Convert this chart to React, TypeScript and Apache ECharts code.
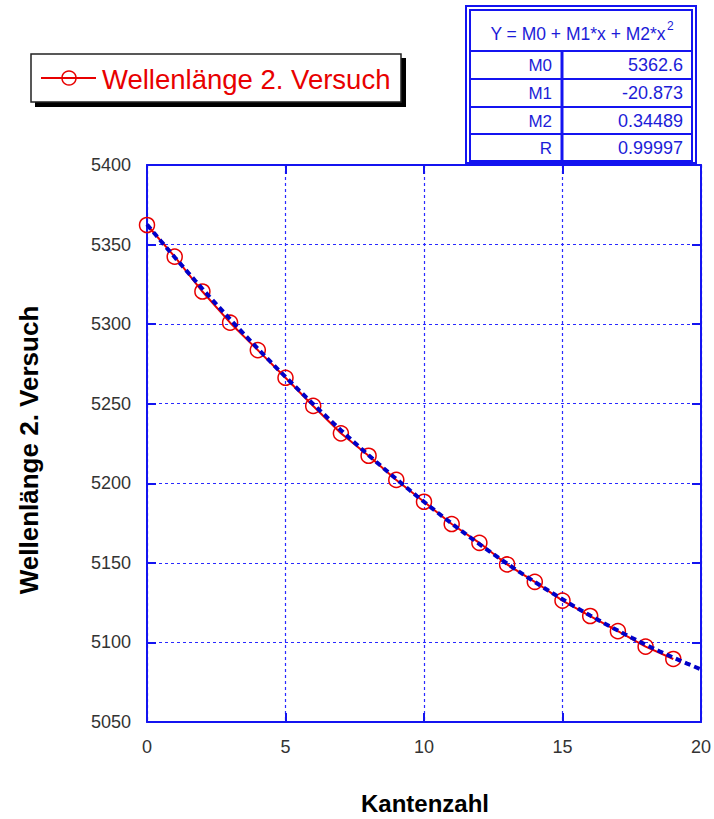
import React, { useEffect, useRef } from "react";
import * as echarts from "echarts";

// Measured edge count and wavelength (second run)
const kantenzahl = [0, 1, 2, 3, 4, 5, 6, 7, 8, 9, 10, 11, 12, 13, 14, 15, 16, 17, 18, 19];
const wellenlaenge = [
  5362.3, 5342.4, 5320.5, 5300.9, 5283.7, 5266.3, 5248.6, 5231.4, 5217.3, 5202.1,
  5188.4, 5174.4, 5162.6, 5149.0, 5138.1, 5126.3, 5116.6, 5107.1, 5097.4, 5089.6,
];

// Quadratic fit parameters shown in the table
const fitNames = ["M0", "M1", "M2", "R"];
const fitValues = ["5362.6", "-20.873", "0.34489", "0.99997"];
const fitCoeffs = [5362.6, -20.873, 0.34489];
const fitRange = [0, 20];

const xTicks = { min: 0, max: 20, interval: 5 };
const yTicks = { min: 5050, max: 5400, interval: 50 };

const seriesName = "Wellenlänge 2. Versuch";
const xTitle = "Kantenzahl";
const yTitle = "Wellenlänge 2. Versuch";

const BLUE = "#1414f0";
const GRID_BLUE = "#2a2aff";
const RED = "#e80000";
const TABLE_BLUE = "#1c1cd8";
const FONT = "Arial, 'Liberation Sans', sans-serif";

function fitCurve(): number[][] {
  const pts: number[][] = [];
  const steps = 80;
  for (let i = 0; i <= steps; i++) {
    const x = fitRange[0] + ((fitRange[1] - fitRange[0]) * i) / steps;
    pts.push([x, fitCoeffs[0] + fitCoeffs[1] * x + fitCoeffs[2] * x * x]);
  }
  return pts;
}

function tableGraphics(): any[] {
  const els: any[] = [];
  const L = 466, R = 696, T = 6, B = 163;
  // outer frame and inner frame
  els.push({ type: "rect", shape: { x: L, y: T, width: R - L, height: B - T }, style: { fill: "#fff", stroke: BLUE, lineWidth: 2 } });
  els.push({ type: "rect", shape: { x: L + 4, y: T + 4, width: R - L - 8, height: B - T - 6 }, style: { fill: "none", stroke: BLUE, lineWidth: 2 } });
  const rowLines = [51, 79, 107, 134];
  rowLines.forEach((y) => {
    els.push({ type: "line", shape: { x1: L + 4, y1: y, x2: R - 4, y2: y }, style: { stroke: BLUE, lineWidth: 2 } });
  });
  els.push({ type: "line", shape: { x1: 562, y1: 51, x2: 562, y2: B - 2 }, style: { stroke: BLUE, lineWidth: 3 } });
  // header with superscript exponent
  els.push({
    type: "text",
    x: 578,
    y: 34,
    style: { text: "Y = M0 + M1*x + M2*x", fill: TABLE_BLUE, font: `17.5px ${FONT}`, align: "center", verticalAlign: "middle" },
  });
  els.push({
    type: "text",
    x: 667,
    y: 26,
    style: { text: "2", fill: TABLE_BLUE, font: `12px ${FONT}`, align: "left", verticalAlign: "middle" },
  });
  const rowCenters = [65, 93, 121, 148];
  fitNames.forEach((n, i) => {
    els.push({
      type: "text",
      x: 552,
      y: rowCenters[i],
      style: { text: n, fill: TABLE_BLUE, font: `17px ${FONT}`, align: "right", verticalAlign: "middle" },
    });
    els.push({
      type: "text",
      x: 683,
      y: rowCenters[i],
      style: { text: fitValues[i], fill: TABLE_BLUE, font: `18px ${FONT}`, align: "right", verticalAlign: "middle" },
    });
  });
  return els;
}

function legendGraphics(): any[] {
  return [
    { type: "rect", shape: { x: 35, y: 58, width: 371, height: 49 }, style: { fill: "#000" } },
    { type: "rect", shape: { x: 31, y: 54, width: 370, height: 48 }, style: { fill: "#fff", stroke: "#222", lineWidth: 1.5 } },
    { type: "line", shape: { x1: 41, y1: 78, x2: 96, y2: 78 }, style: { stroke: RED, lineWidth: 2 } },
    { type: "circle", shape: { cx: 69, cy: 78, r: 7 }, style: { fill: "none", stroke: RED, lineWidth: 1.5 } },
    {
      type: "text",
      x: 102,
      y: 79,
      style: { text: seriesName, fill: RED, font: `27.5px ${FONT}`, align: "left", verticalAlign: "middle" },
    },
  ];
}

export default function App() {
  const ref = useRef<HTMLDivElement>(null);

  useEffect(() => {
    if (!ref.current) return;
    const chart = echarts.init(ref.current, null, { renderer: "svg" });

    const axisLine = { show: true, onZero: false, lineStyle: { color: BLUE, width: 2 } };
    const axisTick = { show: true, inside: true, length: 9, lineStyle: { color: BLUE, width: 2 } };
    const splitLine = { show: true, lineStyle: { color: GRID_BLUE, width: 1.2, type: [3, 3] as any } };
    const label = { color: "#333", fontSize: 18, fontFamily: FONT, formatter: (v: number) => String(v) };

    chart.setOption({
      animation: false,
      backgroundColor: "#fff",
      grid: { left: 147, top: 165, width: 556, height: 557, containLabel: false },
      xAxis: [
        {
          type: "value",
          ...xTicks,
          axisLine,
          axisTick,
          splitLine,
          axisLabel: { ...label, margin: 16 },
        },
        {
          type: "value",
          position: "top",
          ...xTicks,
          axisLine,
          axisTick,
          splitLine: { show: false },
          axisLabel: { show: false },
        },
      ],
      yAxis: [
        {
          type: "value",
          ...yTicks,
          axisLine,
          axisTick,
          splitLine,
          axisLabel: { ...label, margin: 16 },
        },
        {
          type: "value",
          position: "right",
          ...yTicks,
          axisLine,
          axisTick,
          splitLine: { show: false },
          axisLabel: { show: false },
        },
      ],
      series: [
        {
          name: seriesName,
          type: "line",
          data: kantenzahl.map((x, i) => [x, wellenlaenge[i]]),
          lineStyle: { color: RED, width: 2 },
          symbol: "circle",
          symbolSize: 15,
          itemStyle: { color: "rgba(0,0,0,0)", borderColor: RED, borderWidth: 1.5 },
          z: 2,
        },
        {
          name: "Fit",
          type: "line",
          data: fitCurve(),
          showSymbol: false,
          symbol: "none",
          lineStyle: { color: "#0000c8", width: 4, type: [6, 4] as any },
          z: 3,
        },
      ],
      graphic: [
        ...legendGraphics(),
        ...tableGraphics(),
        {
          type: "text",
          x: 425,
          y: 803,
          style: { text: xTitle, fill: "#000", font: `bold 24px ${FONT}`, align: "center", verticalAlign: "middle" },
        },
        {
          type: "text",
          x: 29,
          y: 450,
          rotation: Math.PI / 2,
          style: { text: yTitle, fill: "#000", font: `bold 26px ${FONT}`, align: "center", verticalAlign: "middle" },
        },
      ],
    });

    return () => chart.dispose();
  }, []);

  return (
    <div
      ref={ref}
      style={{ position: "fixed", left: 0, top: 0, width: 714, height: 819 }}
    />
  );
}
